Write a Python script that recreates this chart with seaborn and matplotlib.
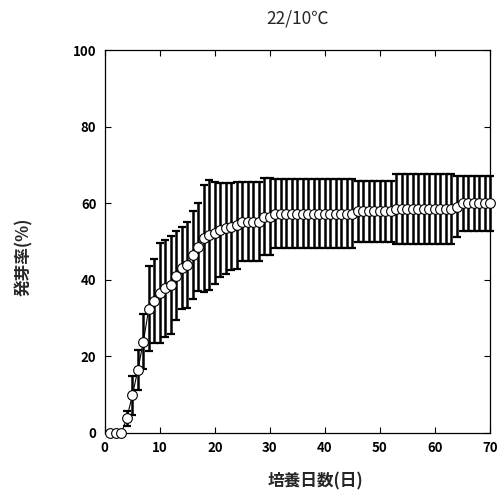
import pandas as pd
import seaborn as sns
import matplotlib.pyplot as plt

# Datos (media ± DE del porcentaje de germinación)
dias = list(range(1, 71))
media = [0.0, 0.0, 0.0, 3.8, 9.8, 16.4, 23.8, 32.5, 34.5, 36.5,
         37.8, 38.6, 41.1, 43.0, 43.9, 46.5, 48.6, 50.8, 51.7, 52.3,
         53.0, 53.4, 53.9, 54.2, 55.2, 55.2, 55.2, 55.2, 56.5, 56.5,
         57.3, 57.3, 57.3, 57.3, 57.3, 57.3, 57.3, 57.3, 57.3, 57.3,
         57.3, 57.3, 57.3, 57.3, 57.3, 57.9, 57.9, 57.9, 57.9, 57.9,
         57.9, 57.9, 58.4, 58.4, 58.4, 58.4, 58.4, 58.4, 58.4, 58.4,
         58.4, 58.4, 58.4, 59.1, 60.0, 60.0, 60.0, 60.0, 60.0, 60.0]
de = [0.0, 0.0, 0.0, 2.0, 5.2, 5.2, 7.2, 11.0, 11.0, 13.0,
      12.7, 12.8, 11.7, 10.7, 11.2, 11.5, 11.5, 14.0, 14.4, 13.3,
      12.2, 12.0, 11.3, 11.4, 10.3, 10.3, 10.3, 10.3, 10.0, 10.0,
      9.1, 9.1, 9.1, 9.1, 9.1, 9.1, 9.1, 9.1, 9.1, 9.1,
      9.1, 9.1, 9.1, 9.1, 9.1, 7.9, 7.9, 7.9, 7.9, 7.9,
      7.9, 7.9, 9.1, 9.1, 9.1, 9.1, 9.1, 9.1, 9.1, 9.1,
      9.1, 9.1, 9.1, 8.0, 7.2, 7.2, 7.2, 7.2, 7.2, 7.2]

df = pd.DataFrame({"dia": dias, "media": media, "de": de})

sns.set_style("ticks")
plt.rcParams["font.family"] = ["Noto Sans CJK JP", "DejaVu Sans"]

fig = plt.figure(figsize=(4.99, 5.0), dpi=100)
ax = fig.add_axes([0.210, 0.134, 0.772, 0.766])

# Barras de error
ax.errorbar(df["dia"], df["media"], yerr=df["de"], fmt="none",
            ecolor="black", elinewidth=1.8, capsize=2.8, capthick=1.6,
            zorder=2, clip_on=False)

# Línea con marcadores
sns.lineplot(x="dia", y="media", data=df, ax=ax, color="black",
             linewidth=0.8, marker="o", markersize=7, markerfacecolor="white",
             markeredgecolor="black", markeredgewidth=0.8, zorder=3)
for ln in ax.lines:
    ln.set_clip_on(False)

ax.set_xlim(0, 70)
ax.set_ylim(0, 100)
ax.set_xticks(range(0, 71, 10))
ax.set_yticks(range(0, 101, 20))
ax.tick_params(direction="in", length=4, width=0.8, top=True, right=True,
               labelsize=9.5, pad=6, colors="black")
for lab in ax.get_xticklabels() + ax.get_yticklabels():
    lab.set_fontweight("bold")
for s in ax.spines.values():
    s.set_linewidth(0.9)
    s.set_color("black")

ax.set_title("22/10℃", fontsize=12.5, pad=19)
ax.set_xlabel("培養日数(日)", fontsize=12, fontweight="bold")
ax.set_ylabel("発芽率(%)", fontsize=12, fontweight="bold")
ax.xaxis.set_label_coords(0.548, -0.104)
ax.yaxis.set_label_coords(-0.185, 0.46)

plt.savefig("out.png", dpi=100)
